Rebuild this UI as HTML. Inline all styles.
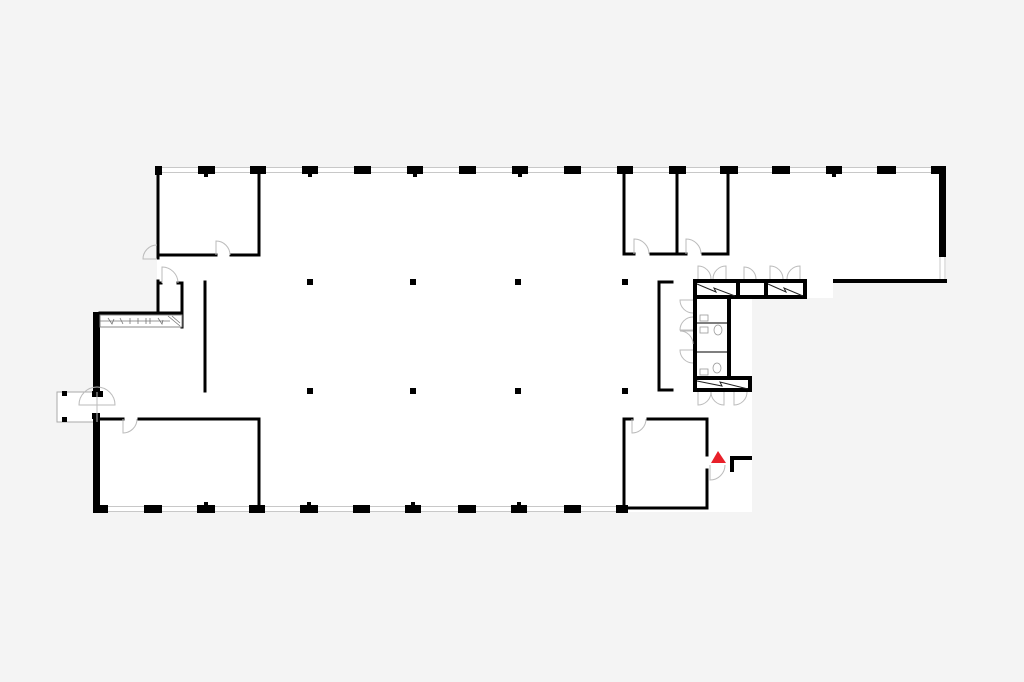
<!DOCTYPE html>
<html><head><meta charset="utf-8"><style>
html,body{margin:0;padding:0;background:#f4f4f4;}
svg{display:block}
</style></head><body>
<svg width="1024" height="682" viewBox="0 0 1024 682" xmlns="http://www.w3.org/2000/svg">
<rect width="1024" height="682" fill="#f4f4f4"/>
<!-- building floor -->
<polygon fill="#fff" points="157,168 946,168 946,283 833,283 833,298 752,298 752,512 93,512 93,312 157,312 157,258"/>
<rect x="57" y="392" width="40" height="30" fill="#fff" stroke="#aaa" stroke-width="1"/>
<!-- window lines -->
<g stroke="#c8c8c8" stroke-width="1">
<line x1="157" y1="167.5" x2="946" y2="167.5"/><line x1="157" y1="172.5" x2="946" y2="172.5"/>
<line x1="95" y1="506.5" x2="628" y2="506.5"/><line x1="95" y1="511.5" x2="628" y2="511.5"/>
<line x1="940" y1="257" x2="940" y2="279"/><line x1="945" y1="257" x2="945" y2="279"/>
</g>
<g fill="#000">
<!-- top pillars -->
<rect x="155" y="166" width="7" height="9"/>
<rect x="198" y="166" width="17" height="8"/><rect x="204" y="173" width="4" height="4"/>
<rect x="250" y="166" width="16" height="8"/>
<rect x="302" y="166" width="16" height="8"/><rect x="308" y="173" width="4" height="4"/>
<rect x="354" y="166" width="17" height="8"/>
<rect x="407" y="166" width="16" height="8"/><rect x="413" y="173" width="4" height="4"/>
<rect x="459" y="166" width="17" height="8"/>
<rect x="512" y="166" width="16" height="8"/><rect x="518" y="173" width="4" height="4"/>
<rect x="564" y="166" width="17" height="8"/>
<rect x="617" y="166" width="16" height="8"/>
<rect x="669" y="166" width="17" height="8"/>
<rect x="720" y="166" width="18" height="8"/>
<rect x="772" y="166" width="18" height="8"/>
<rect x="826" y="166" width="16" height="8"/><rect x="832" y="173" width="4" height="4"/>
<rect x="877" y="166" width="19" height="8"/>
<rect x="931" y="166" width="15" height="8"/>
<!-- bottom pillars -->
<rect x="93" y="505" width="15" height="8"/>
<rect x="144" y="505" width="18" height="8"/>
<rect x="197" y="505" width="18" height="8"/><rect x="204" y="502" width="4" height="4"/>
<rect x="249" y="505" width="16" height="8"/>
<rect x="300" y="505" width="18" height="8"/><rect x="307" y="502" width="4" height="4"/>
<rect x="353" y="505" width="17" height="8"/>
<rect x="405" y="505" width="16" height="8"/><rect x="411" y="502" width="4" height="4"/>
<rect x="458" y="505" width="18" height="8"/>
<rect x="511" y="505" width="16" height="8"/><rect x="517" y="502" width="4" height="4"/>
<rect x="564" y="505" width="17" height="8"/>
<rect x="616" y="505" width="12" height="8"/>
<!-- columns -->
<rect x="307" y="279" width="6" height="6"/><rect x="410" y="279" width="6" height="6"/>
<rect x="515" y="279" width="6" height="6"/><rect x="622" y="279" width="6" height="6"/>
<rect x="307" y="388" width="6" height="6"/><rect x="410" y="388" width="6" height="6"/>
<rect x="515" y="388" width="6" height="6"/><rect x="622" y="388" width="6" height="6"/>
<!-- left thick wall -->
<rect x="93" y="312" width="7" height="84"/>
<rect x="93" y="413" width="7" height="97"/>
<rect x="92" y="391" width="11" height="6"/><rect x="92" y="413" width="8" height="6"/>
<rect x="62" y="391" width="5" height="5"/><rect x="62" y="417" width="5" height="5"/>
<!-- right thick wall -->
<rect x="939" y="168" width="7" height="89"/>
<rect x="833" y="279" width="114" height="4"/>
</g>
<!-- thin walls -->
<g stroke="#000" stroke-width="3" fill="none" stroke-linecap="square">
<!-- top-left room -->
<line x1="158" y1="172" x2="158" y2="258"/>
<line x1="158" y1="255" x2="216" y2="255"/><line x1="231" y1="255" x2="259" y2="255"/>
<line x1="259" y1="172" x2="259" y2="255"/>
<!-- vestibule -->
<line x1="158" y1="281" x2="158" y2="313"/>
<line x1="158" y1="283" x2="161" y2="283"/><line x1="178" y1="283" x2="182" y2="283"/>
<line x1="182" y1="283" x2="182" y2="327"/>
<line x1="100" y1="313" x2="182" y2="313"/>
<!-- partition -->
<line x1="205" y1="282" x2="205" y2="391"/>
<!-- bottom-left room -->
<line x1="100" y1="419" x2="123" y2="419"/><line x1="139" y1="419" x2="259" y2="419"/>
<line x1="259" y1="419" x2="259" y2="508"/>
<!-- top-right rooms -->
<line x1="624" y1="172" x2="624" y2="254"/>
<line x1="677" y1="172" x2="677" y2="254"/>
<line x1="728" y1="172" x2="728" y2="254"/>
<line x1="624" y1="254" x2="634" y2="254"/><line x1="651" y1="254" x2="686" y2="254"/><line x1="703" y1="254" x2="728" y2="254"/>
<!-- bracket -->
<polyline points="672,282 659,282 659,390 672,390"/>
<!-- bottom-right room -->
<line x1="624" y1="419" x2="624" y2="508"/>
<line x1="624" y1="419" x2="632" y2="419"/><line x1="648" y1="419" x2="707" y2="419"/>
<line x1="707" y1="419" x2="707" y2="455"/><line x1="707" y1="470" x2="707" y2="508"/>
<line x1="624" y1="508" x2="707" y2="508"/>
</g>
<!-- stair hatch strip -->
<rect x="100" y="315" width="82" height="12" fill="#fff" stroke="#888" stroke-width="1"/>
<g stroke="#777" stroke-width="0.8" fill="none">
<line x1="100" y1="321" x2="170" y2="321"/>
<path d="M108,318 l4,6 l2,-5 M120,318 l3,6 M130,318 l0,6 M138,318 l0,6 M146,318 l0,6 M150,318 l0,6 M158,318 l4,6 l1,-4 M168,316 l12,10 M172,316 l8,7"/>
</g>
<!-- toilets block -->
<g fill="#000">
<rect x="693" y="279" width="114" height="4"/>
<rect x="693" y="295" width="114" height="4"/>
<rect x="693" y="279" width="4" height="113"/>
<rect x="736" y="279" width="4" height="20"/>
<rect x="764" y="279" width="4" height="20"/>
<rect x="803" y="279" width="4" height="20"/>
<rect x="727" y="299" width="4" height="80"/>
<rect x="693" y="376" width="59" height="4"/>
<rect x="748" y="376" width="4" height="16"/>
<rect x="693" y="388" width="59" height="4"/>
<rect x="730" y="388" width="4" height="4"/>
</g>
<g stroke="#222" stroke-width="1" fill="none">
<polyline points="697,284 716,292 714,288 735,296"/>
<polyline points="768,284 786,292 784,288 803,296"/>
<polyline points="697,381 722,386 720,382 748,389"/>
<line x1="697" y1="323" x2="727" y2="323" stroke="#555" stroke-width="1.5"/>
<line x1="697" y1="352" x2="727" y2="352" stroke="#555" stroke-width="1.5"/>
</g>
<g stroke="#999" stroke-width="0.8" fill="#fff">
<rect x="700" y="315" width="8" height="6"/><rect x="700" y="327" width="8" height="6"/>
<ellipse cx="718" cy="330" rx="4" ry="5"/>
<rect x="700" y="369" width="8" height="6"/><ellipse cx="717" cy="368" rx="4" ry="5"/>
</g>
<!-- doors -->
<g stroke="#bbb" stroke-width="1" fill="none">
<path d="M216,255 v-14 a14,14 0 0 1 14,14"/>
<path d="M157,259 h-14 a14,14 0 0 1 14,-14"/>
<path d="M162,283 v-16 a16,16 0 0 1 16,16"/>
<path d="M123,419 v14 a14,14 0 0 0 14,-14"/>
<path d="M79,405 a18,18 0 0 1 36,0 z"/>
<line x1="97" y1="392" x2="97" y2="422"/>
<path d="M634,254 v-15 a15,15 0 0 1 15,15"/>
<path d="M686,254 v-15 a15,15 0 0 1 15,15"/>
<path d="M632,419 v14 a14,14 0 0 0 14,-14"/>
<path d="M698,279 v-13 a13,13 0 0 1 13,13 M726,279 v-13 a13,13 0 0 0 -13,13"/>
<path d="M744,279 v-12 a12,12 0 0 1 12,12"/>
<path d="M770,279 v-13 a13,13 0 0 1 13,13 M800,279 v-13 a13,13 0 0 0 -13,13"/>
<path d="M693,300 h-13 a13,13 0 0 0 13,13"/>
<path d="M693,330 h-13 a13,13 0 0 1 13,-13"/>
<path d="M693,350 h-13 a13,13 0 0 0 13,13"/>
<path d="M693,331 h-13 a13,13 0 0 1 13,13"/>
<path d="M698,392 v13 a13,13 0 0 0 13,-13 M724,392 v13 a13,13 0 0 1 -13,-13"/>
<path d="M734,392 v13 a13,13 0 0 0 13,-13"/>
<path d="M710,465 v15 a15,15 0 0 0 15,-15"/>
</g>
<!-- entrance -->
<polygon points="718,451 711,463 726,463" fill="#e8202a"/>
<g fill="#000"><rect x="730" y="456" width="22" height="4"/><rect x="730" y="456" width="4" height="16"/></g>
</svg>
</body></html>
